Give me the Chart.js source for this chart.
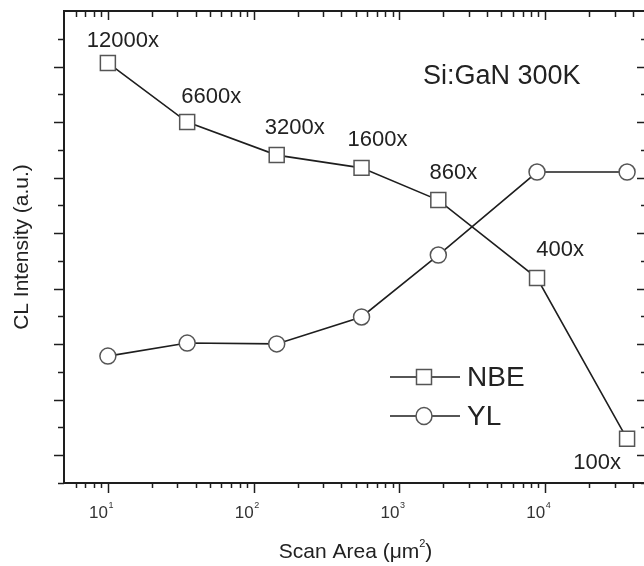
<!DOCTYPE html>
<html>
<head>
<meta charset="utf-8">
<script src="https://cdn.jsdelivr.net/npm/chart.js@4/dist/chart.umd.min.js"></script>
<style>
  html, body { margin: 0; padding: 0; background: #fff; overflow: hidden; }
  #wrap { width: 644px; height: 566px; overflow: hidden; }
</style>
</head>
<body>
<div id="wrap"><canvas id="clChart" width="650" height="566"></canvas></div>
<script>
// Scan area (um^2) vs CL intensity, Si:GaN at 300K
const scanArea = [10, 35, 144, 550, 1850, 8800, 36500];
const magLabels = ['12000x', '6600x', '3200x', '1600x', '860x', '400x', '100x'];
const nbeIntensity = [15.13, 13.0, 11.81, 11.35, 10.19, 7.38, 1.59];
const ylIntensity = [4.57, 5.04, 5.01, 5.98, 8.21, 11.2, 11.2];
const xTickValues = [10, 100, 1000, 10000];
const xTickExponents = ['1', '2', '3', '4'];

const FONT = '"Liberation Sans", Arial, sans-serif';
const INK = '#1e1e1e';

function strokeLine(ctx, x1, y1, x2, y2) {
    ctx.beginPath();
    ctx.moveTo(x1, y1);
    ctx.lineTo(x2, y2);
    ctx.stroke();
}

function drawMarker(ctx, style, x, y) {
    ctx.save();
    ctx.fillStyle = '#fff';
    ctx.strokeStyle = '#555';
    ctx.lineWidth = 1.5;
    ctx.beginPath();
    if (style === 'rect') ctx.rect(x - 7.5, y - 7.5, 15, 15);
    else ctx.ellipse(x, y, 8, 8.5, 0, 0, Math.PI * 2);
    ctx.fill();
    ctx.stroke();
    ctx.restore();
}

// frame, ticks, titles, point labels and legend
const framePlugin = {
    id: 'frame',
    afterDraw(chart) {
        const { ctx, chartArea: a } = chart;
        const x = chart.scales.x, y = chart.scales.y;
        ctx.save();
        ctx.strokeStyle = INK;
        ctx.lineWidth = 2;
        ctx.strokeRect(a.left, a.top, a.right - a.left, a.bottom - a.top);

        // log ticks on bottom and top
        ctx.lineWidth = 1.5;
        for (let k = 0; k <= 4; k++) {
            for (let d = 1; d <= 9; d++) {
                const v = d * Math.pow(10, k);
                if (v <= x.min || v >= x.max) continue;
                const px = Math.round(x.getPixelForValue(v)) + 0.5;
                const major = d === 1;
                strokeLine(ctx, px, a.bottom, px, a.bottom + (major ? 10 : 5));
                strokeLine(ctx, px, a.top, px, a.top + (major ? 9 : 6));
            }
        }
        // linear ticks on left and right
        for (let v = y.min; v < y.max; v++) {
            const py = Math.round(y.getPixelForValue(v)) + 0.5;
            const major = v % 2 === 1;
            strokeLine(ctx, a.left - (major ? 10 : 6), py, a.left, py);
            strokeLine(ctx, a.right - (major ? 10 : 6), py, a.right, py);
        }

        // x tick labels 10^n
        ctx.fillStyle = '#333';
        xTickValues.forEach((v, i) => {
            const px = x.getPixelForValue(v);
            ctx.font = '17px ' + FONT;
            ctx.textAlign = 'right';
            ctx.textBaseline = 'middle';
            ctx.fillText('10', px, a.bottom + 30);
            ctx.font = '9px ' + FONT;
            ctx.textAlign = 'left';
            ctx.fillText(xTickExponents[i], px + 0.5, a.bottom + 23);
        });

        // axis titles
        ctx.fillStyle = '#222';
        ctx.font = '21px ' + FONT;
        ctx.textBaseline = 'middle';
        const cx = (a.left + a.right) / 2;
        const t1 = 'Scan Area (\u03bcm';
        const w1 = ctx.measureText(t1 + ')').width;
        ctx.textAlign = 'left';
        ctx.fillText(t1, cx - w1 / 2 - 3, a.bottom + 69);
        const wt = ctx.measureText(t1).width;
        ctx.font = '11px ' + FONT;
        ctx.fillText('2', cx - w1 / 2 - 3 + wt, a.bottom + 61);
        ctx.font = '21px ' + FONT;
        ctx.fillText(')', cx - w1 / 2 - 3 + wt + 6, a.bottom + 69);

        ctx.save();
        ctx.translate(22, (a.top + a.bottom) / 2);
        ctx.rotate(-Math.PI / 2);
        ctx.textAlign = 'center';
        ctx.fillText('CL Intensity (a.u.)', 0, 0);
        ctx.restore();

        // sample label
        ctx.font = '27px ' + FONT;
        ctx.textAlign = 'left';
        ctx.fillText('Si:GaN 300K', 423, 77);

        // magnification labels next to NBE points
        const offsets = [[15, -22], [24, -25], [18, -27], [16, -28], [15, -27], [23, -28], [-30, 24]];
        const pts = chart.getDatasetMeta(0).data;
        ctx.font = '22px ' + FONT;
        ctx.textAlign = 'center';
        magLabels.forEach((lbl, i) => {
            const p = pts[i];
            ctx.fillText(lbl, p.x + offsets[i][0], p.y + offsets[i][1]);
        });

        // legend
        const rows = [['rect', 'NBE', 377], ['circle', 'YL', 416]];
        ctx.font = '28px ' + FONT;
        ctx.textAlign = 'left';
        rows.forEach(([style, name, ly]) => {
            ctx.strokeStyle = INK;
            ctx.lineWidth = 1.6;
            strokeLine(ctx, 390, ly, 460, ly);
            drawMarker(ctx, style, 424, ly);
            ctx.fillStyle = '#222';
            ctx.fillText(name, 467, ly + 1);
        });
        ctx.restore();
    }
};

function series(values) {
    return scanArea.map((v, i) => ({ x: v, y: values[i] }));
}

new Chart(document.getElementById('clChart'), {
    type: 'line',
    data: {
        datasets: [{
            label: 'NBE',
            data: series(nbeIntensity),
            borderColor: INK,
            borderWidth: 1.6,
            pointStyle: 'rect',
            pointRadius: 10.6,
            pointBorderColor: '#555',
            pointBackgroundColor: '#fff',
            pointBorderWidth: 1.5,
            clip: false
        }, {
            label: 'YL',
            data: series(ylIntensity),
            borderColor: INK,
            borderWidth: 1.6,
            pointStyle: 'circle',
            pointRadius: 8,
            pointBorderColor: '#555',
            pointBackgroundColor: '#fff',
            pointBorderWidth: 1.5,
            clip: false
        }]
    },
    options: {
        responsive: false,
        animation: false,
        layout: { autoPadding: false, padding: { left: 64, top: 11, right: 3, bottom: 83 } },
        scales: {
            x: { type: 'logarithmic', min: 5, max: 50000, display: false },
            y: { type: 'linear', min: 0, max: 17, display: false }
        },
        plugins: { legend: { display: false }, tooltip: { enabled: false } }
    },
    plugins: [framePlugin]
});
</script>
</body>
</html>
